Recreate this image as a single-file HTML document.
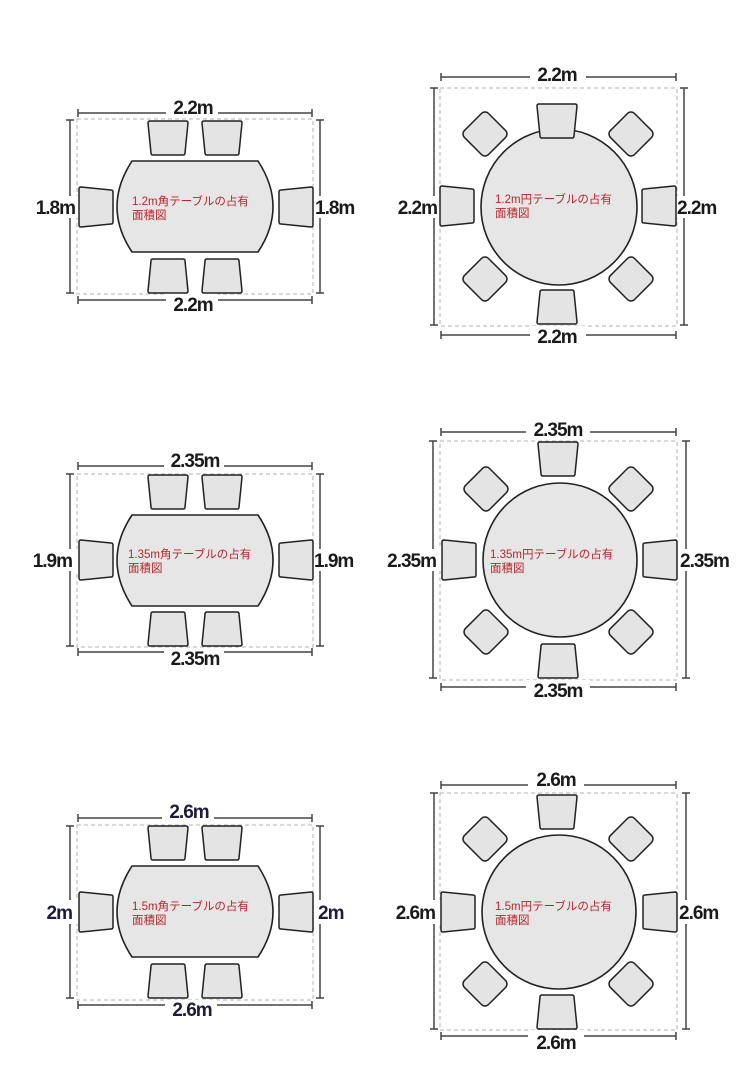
<!DOCTYPE html>
<html><head><meta charset="utf-8">
<style>
html,body{margin:0;padding:0;background:#fff;}
svg{display:block;}
.dim{font-family:"Liberation Sans","Noto Sans CJK JP",sans-serif;font-size:19px;font-weight:bold;fill:#1a1a1a;letter-spacing:-1px;}
.dimb{fill:#1c1c3c;}
.lab{font-family:"Liberation Sans","Noto Sans CJK JP",sans-serif;font-size:11.5px;fill:#b8262c;}
.dl{stroke:#444;stroke-width:1.5;fill:none;}
.box{stroke:#b0b0b0;stroke-width:1;stroke-dasharray:4 3;fill:none;}
.t{fill:#e6e6e6;stroke:#222;stroke-width:1.6;}
.g{fill:#e4e4e4;stroke:#222;stroke-width:1.5;stroke-linejoin:round;}
</style></head><body>
<svg width="750" height="1090" viewBox="0 0 750 1090" xmlns="http://www.w3.org/2000/svg">
<defs>
<path id="c" class="g" d="M-18,-17 L18,-17 Q20,-17 20,-15 L17,15 Q17,17 15,17 L-15,17 Q-17,17 -17,15 L-20,-15 Q-20,-17 -18,-17 Z"/>
<rect id="d" class="g" x="-17" y="-17" width="34" height="34" rx="5" transform="rotate(45)"/>
</defs>

<!-- ===== Diagram 1 ===== -->
<rect class="box" x="77" y="119" width="236" height="175"/>
<path class="dl" d="M78,113 H312 M78,109 V117 M312,109 V117"/>
<path class="dl" d="M78,300 H312 M78,296 V304 M312,296 V304"/>
<path class="dl" d="M70,120 V293 M66,120 H74 M66,293 H74"/>
<path class="dl" d="M320,120 V293 M316,120 H324 M316,293 H324"/>
<rect x="166" y="97" width="52" height="20" fill="#fff"/>
<rect x="166" y="292" width="52" height="20" fill="#fff"/>
<rect x="60" y="196" width="18" height="22" fill="#fff"/>
<rect x="312" y="196" width="18" height="22" fill="#fff"/>
<text class="dim" x="193" y="114" text-anchor="middle">2.2m</text>
<text class="dim" x="193" y="311" text-anchor="middle">2.2m</text>
<text class="dim" x="75" y="214" text-anchor="end">1.8m</text>
<text class="dim" x="315" y="214">1.8m</text>
<path class="t" d="M132,161 L258,161 Q288,207 258,252 L132,252 Q102,207 132,161 Z"/>
<use href="#c" transform="translate(168,138)"/>
<use href="#c" transform="translate(222,138)"/>
<use href="#c" transform="translate(168,276) rotate(180)"/>
<use href="#c" transform="translate(222,276) rotate(180)"/>
<use href="#c" transform="translate(96,207) rotate(-90)"/>
<use href="#c" transform="translate(296,207) rotate(90)"/>
<text class="lab" x="132" y="205">1.2m角テーブルの占有</text>
<text class="lab" x="132" y="219">面積図</text>

<!-- ===== Diagram 2 ===== -->
<rect class="box" x="440" y="88" width="237" height="238"/>
<path class="dl" d="M441,77 H676 M441,73 V81 M676,73 V81"/>
<path class="dl" d="M441,335 H676 M441,331 V339 M676,331 V339"/>
<path class="dl" d="M434,88 V325 M430,88 H438 M430,325 H438"/>
<path class="dl" d="M684,88 V325 M680,88 H688 M680,325 H688"/>
<rect x="530" y="64" width="56" height="20" fill="#fff"/>
<rect x="530" y="326" width="56" height="20" fill="#fff"/>
<rect x="424" y="196" width="18" height="22" fill="#fff"/>
<rect x="676" y="196" width="18" height="22" fill="#fff"/>
<text class="dim" x="557" y="81" text-anchor="middle">2.2m</text>
<text class="dim" x="557" y="343" text-anchor="middle">2.2m</text>
<text class="dim" x="437" y="214" text-anchor="end">2.2m</text>
<text class="dim" x="677" y="214">2.2m</text>
<circle class="t" cx="559" cy="207" r="78"/>
<use href="#c" transform="translate(557,121)"/>
<use href="#c" transform="translate(557,307) rotate(180)"/>
<use href="#c" transform="translate(457,206) rotate(-90)"/>
<use href="#c" transform="translate(659,206) rotate(90)"/>
<use href="#d" transform="translate(485,134)"/>
<use href="#d" transform="translate(631,134)"/>
<use href="#d" transform="translate(485,279)"/>
<use href="#d" transform="translate(631,279)"/>
<text class="lab" x="495" y="203">1.2m円テーブルの占有</text>
<text class="lab" x="495" y="217">面積図</text>

<!-- ===== Diagram 3 ===== -->
<rect class="box" x="77" y="474" width="236" height="173"/>
<path class="dl" d="M78,466 H312 M78,462 V470 M312,462 V470"/>
<path class="dl" d="M78,652 H312 M78,648 V656 M312,648 V656"/>
<path class="dl" d="M70,474 V646 M66,474 H74 M66,646 H74"/>
<path class="dl" d="M320,474 V646 M316,474 H324 M316,646 H324"/>
<rect x="164" y="450" width="60" height="20" fill="#fff"/>
<rect x="164" y="648" width="60" height="20" fill="#fff"/>
<rect x="60" y="549" width="18" height="22" fill="#fff"/>
<rect x="312" y="549" width="18" height="22" fill="#fff"/>
<text class="dim" x="195" y="467" text-anchor="middle">2.35m</text>
<text class="dim" x="195" y="665" text-anchor="middle">2.35m</text>
<text class="dim" x="72" y="567" text-anchor="end">1.9m</text>
<text class="dim" x="314" y="567">1.9m</text>
<path class="t" d="M132,515 L258,515 Q288,560 258,606 L132,606 Q102,560 132,515 Z"/>
<use href="#c" transform="translate(168,492)"/>
<use href="#c" transform="translate(222,492)"/>
<use href="#c" transform="translate(168,629) rotate(180)"/>
<use href="#c" transform="translate(222,629) rotate(180)"/>
<use href="#c" transform="translate(96,560) rotate(-90)"/>
<use href="#c" transform="translate(296,560) rotate(90)"/>
<text class="lab" x="128" y="558">1.35m角テーブルの占有</text>
<text class="lab" x="128" y="572">面積図</text>

<!-- ===== Diagram 4 ===== -->
<rect class="box" x="440" y="441" width="237" height="239"/>
<path class="dl" d="M441,432 H676 M441,428 V436 M676,428 V436"/>
<path class="dl" d="M441,687 H676 M441,683 V691 M676,683 V691"/>
<path class="dl" d="M433,441 V678 M429,441 H437 M429,678 H437"/>
<path class="dl" d="M686,441 V678 M682,441 H690 M682,678 H690"/>
<rect x="526" y="418" width="64" height="20" fill="#fff"/>
<rect x="526" y="680" width="64" height="20" fill="#fff"/>
<rect x="423" y="549" width="18" height="22" fill="#fff"/>
<rect x="678" y="549" width="18" height="22" fill="#fff"/>
<text class="dim" x="558" y="436" text-anchor="middle">2.35m</text>
<text class="dim" x="558" y="697" text-anchor="middle">2.35m</text>
<text class="dim" x="436" y="567" text-anchor="end">2.35m</text>
<text class="dim" x="680" y="567">2.35m</text>
<circle class="t" cx="560" cy="560" r="77"/>
<use href="#c" transform="translate(558,459)"/>
<use href="#c" transform="translate(558,661) rotate(180)"/>
<use href="#c" transform="translate(459,560) rotate(-90)"/>
<use href="#c" transform="translate(660,560) rotate(90)"/>
<use href="#d" transform="translate(486,489)"/>
<use href="#d" transform="translate(631,489)"/>
<use href="#d" transform="translate(486,632)"/>
<use href="#d" transform="translate(631,632)"/>
<text class="lab" x="490" y="558">1.35m円テーブルの占有</text>
<text class="lab" x="490" y="572">面積図</text>

<!-- ===== Diagram 5 ===== -->
<rect class="box" x="77" y="825" width="236" height="175"/>
<path class="dl" d="M78,818 H312 M78,814 V822 M312,814 V822"/>
<path class="dl" d="M78,1005 H312 M78,1001 V1009 M312,1001 V1009"/>
<path class="dl" d="M70,826 V998 M66,826 H74 M66,998 H74"/>
<path class="dl" d="M320,826 V998 M316,826 H324 M316,998 H324"/>
<rect x="162" y="802" width="52" height="20" fill="#fff"/>
<rect x="165" y="1000" width="52" height="20" fill="#fff"/>
<rect x="60" y="900" width="18" height="24" fill="#fff"/>
<rect x="312" y="900" width="18" height="24" fill="#fff"/>
<text class="dim dimb" x="189" y="818" text-anchor="middle">2.6m</text>
<text class="dim dimb" x="192" y="1016" text-anchor="middle">2.6m</text>
<text class="dim dimb" x="72" y="919" text-anchor="end">2m</text>
<text class="dim dimb" x="318" y="919">2m</text>
<path class="t" d="M132,866 L258,866 Q288,912 258,957 L132,957 Q102,912 132,866 Z"/>
<use href="#c" transform="translate(168,843)"/>
<use href="#c" transform="translate(222,843)"/>
<use href="#c" transform="translate(168,981) rotate(180)"/>
<use href="#c" transform="translate(222,981) rotate(180)"/>
<use href="#c" transform="translate(96,912) rotate(-90)"/>
<use href="#c" transform="translate(296,912) rotate(90)"/>
<text class="lab" x="132" y="910">1.5m角テーブルの占有</text>
<text class="lab" x="132" y="924">面積図</text>

<!-- ===== Diagram 6 ===== -->
<rect class="box" x="440" y="793" width="237" height="237"/>
<path class="dl" d="M441,785 H676 M441,781 V789 M676,781 V789"/>
<path class="dl" d="M441,1036 H676 M441,1032 V1040 M676,1032 V1040"/>
<path class="dl" d="M434,793 V1029 M430,793 H438 M430,1029 H438"/>
<path class="dl" d="M686,793 V1029 M682,793 H690 M682,1029 H690"/>
<rect x="528" y="770" width="56" height="20" fill="#fff"/>
<rect x="528" y="1030" width="56" height="20" fill="#fff"/>
<rect x="424" y="900" width="18" height="24" fill="#fff"/>
<rect x="678" y="900" width="18" height="24" fill="#fff"/>
<text class="dim" x="556" y="786" text-anchor="middle">2.6m</text>
<text class="dim" x="556" y="1049" text-anchor="middle">2.6m</text>
<text class="dim" x="435" y="919" text-anchor="end">2.6m</text>
<text class="dim" x="679" y="919">2.6m</text>
<circle class="t" cx="559" cy="912" r="77"/>
<use href="#c" transform="translate(557,812)"/>
<use href="#c" transform="translate(557,1012) rotate(180)"/>
<use href="#c" transform="translate(458,912) rotate(-90)"/>
<use href="#c" transform="translate(660,912) rotate(90)"/>
<use href="#d" transform="translate(485,839)"/>
<use href="#d" transform="translate(631,839)"/>
<use href="#d" transform="translate(485,984)"/>
<use href="#d" transform="translate(631,984)"/>
<text class="lab" x="495" y="910">1.5m円テーブルの占有</text>
<text class="lab" x="495" y="924">面積図</text>
</svg>
</body></html>
